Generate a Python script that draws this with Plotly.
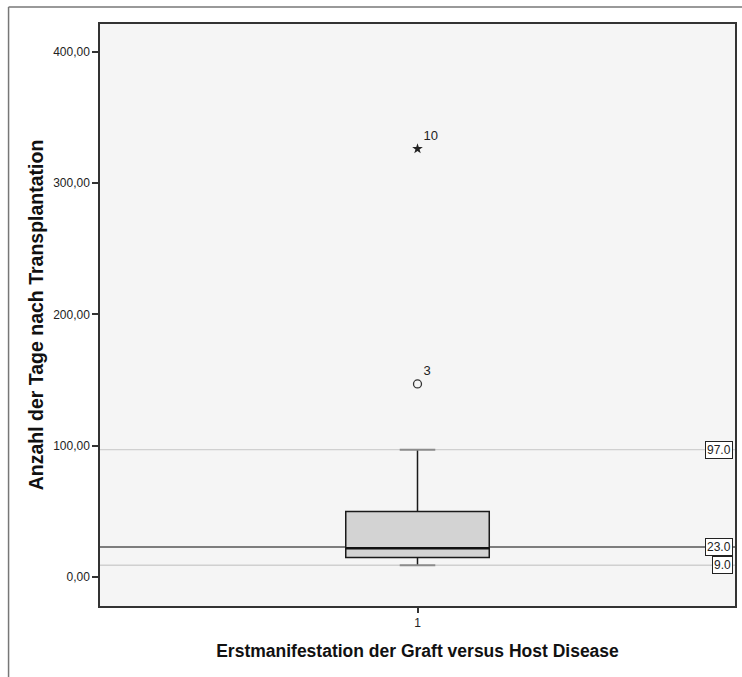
import plotly.graph_objects as go

# ---- data ----
category = [1]
q1 = [15.0]
median = [22.0]
q3 = [50.0]
lower_fence = [9.0]
upper_fence = [97.0]
outlier_vals = [147.0]
outlier_ids = ["3"]
extreme_vals = [326.0]
extreme_ids = ["10"]
ref_values = [97.0, 23.0, 9.0]
ref_colors = ["#d0d0d0", "#555555", "#d0d0d0"]
y_ticks = [0, 100, 200, 300, 400]

box_w = 0.226
cap_half = 0.028

fig = go.Figure()

# reference lines (behind)
for v, c in zip(ref_values, ref_colors):
    fig.add_shape(type="line", xref="paper", x0=0, x1=1, yref="y", y0=v, y1=v,
                  line=dict(color=c, width=1.3 if c != "#555555" else 1.5), layer="below")

fig.add_trace(go.Box(
    x=category, q1=q1, median=median, q3=q3,
    lowerfence=lower_fence, upperfence=upper_fence,
    width=box_w, whiskerwidth=0, boxpoints=False,
    fillcolor="#d3d3d3", line=dict(color="#1a1a1a", width=1.5),
    showlegend=False, hoverinfo="skip"))

# median emphasis
fig.add_trace(go.Scatter(
    x=[category[0] - box_w / 2, category[0] + box_w / 2], y=[median[0], median[0]],
    mode="lines", line=dict(color="#111111", width=2.5), showlegend=False, hoverinfo="skip"))

# whisker caps (gray)
for f in (upper_fence[0], lower_fence[0]):
    fig.add_trace(go.Scatter(
        x=[category[0] - cap_half, category[0] + cap_half], y=[f, f],
        mode="lines", line=dict(color="#8c8c8c", width=2), showlegend=False, hoverinfo="skip"))

# outliers
fig.add_trace(go.Scatter(
    x=category, y=outlier_vals, mode="markers+text", text=outlier_ids,
    textposition="top right", textfont=dict(family="Liberation Sans, Arial", size=13, color="#222"),
    marker=dict(symbol="circle-open", size=8, color="#333", line=dict(width=1.3)),
    showlegend=False, hoverinfo="skip"))
fig.add_trace(go.Scatter(
    x=category, y=extreme_vals, mode="markers+text", text=extreme_ids,
    textposition="top right", textfont=dict(family="Liberation Sans, Arial", size=13, color="#222"),
    marker=dict(symbol="star", size=8, color="#222"),
    showlegend=False, hoverinfo="skip"))

# reference labels
for v in ref_values:
    fig.add_annotation(xref="paper", x=0.997, xanchor="right", yref="y", y=v, yanchor="middle",
                       text=f"{v:.1f}", showarrow=False,
                       font=dict(family="Liberation Sans, Arial", size=12, color="#222"),
                       bgcolor="white", bordercolor="#222", borderwidth=1, borderpad=1)

# outer frame (left and top edges)
fig.add_shape(type="line", xref="paper", yref="paper", x0=-0.144, x1=-0.144, y0=-0.2, y1=1.029,
              line=dict(color="#777", width=1.5))
fig.add_shape(type="line", xref="paper", yref="paper", x0=-0.144, x1=1.1, y0=1.029, y1=1.029,
              line=dict(color="#777", width=1.5))

fig.update_layout(
    width=742, height=677,
    margin=dict(l=100, r=5, t=24, b=71),
    paper_bgcolor="white", plot_bgcolor="#f5f5f5",
    separators=",.",
    font=dict(family="Liberation Sans, Arial", color="#222"),
    xaxis=dict(range=[0.5, 1.5], tickvals=category, ticktext=[str(c) for c in category],
               ticks="outside", ticklen=5, tickwidth=2, tickcolor="#333",
               showline=True, linecolor="#333", linewidth=1.5, mirror=True,
               showgrid=False, zeroline=False, tickfont=dict(size=12, color="#222"),
               title=dict(text="<b>Erstmanifestation der Graft versus Host Disease</b>",
                          font=dict(size=17.5, color="#111"), standoff=16)),
    yaxis=dict(range=[-22, 421], tickvals=y_ticks, tickformat=".2f",
               ticks="outside", ticklen=6, tickwidth=2, tickcolor="#333",
               showline=True, linecolor="#333", linewidth=1.5, mirror=True,
               showgrid=False, zeroline=False, tickfont=dict(size=12, color="#222"),
               title=dict(text="<b>Anzahl der Tage nach Transplantation</b>",
                          font=dict(size=19.5, color="#111"), standoff=4)),
)

fig.write_html("out.html")
